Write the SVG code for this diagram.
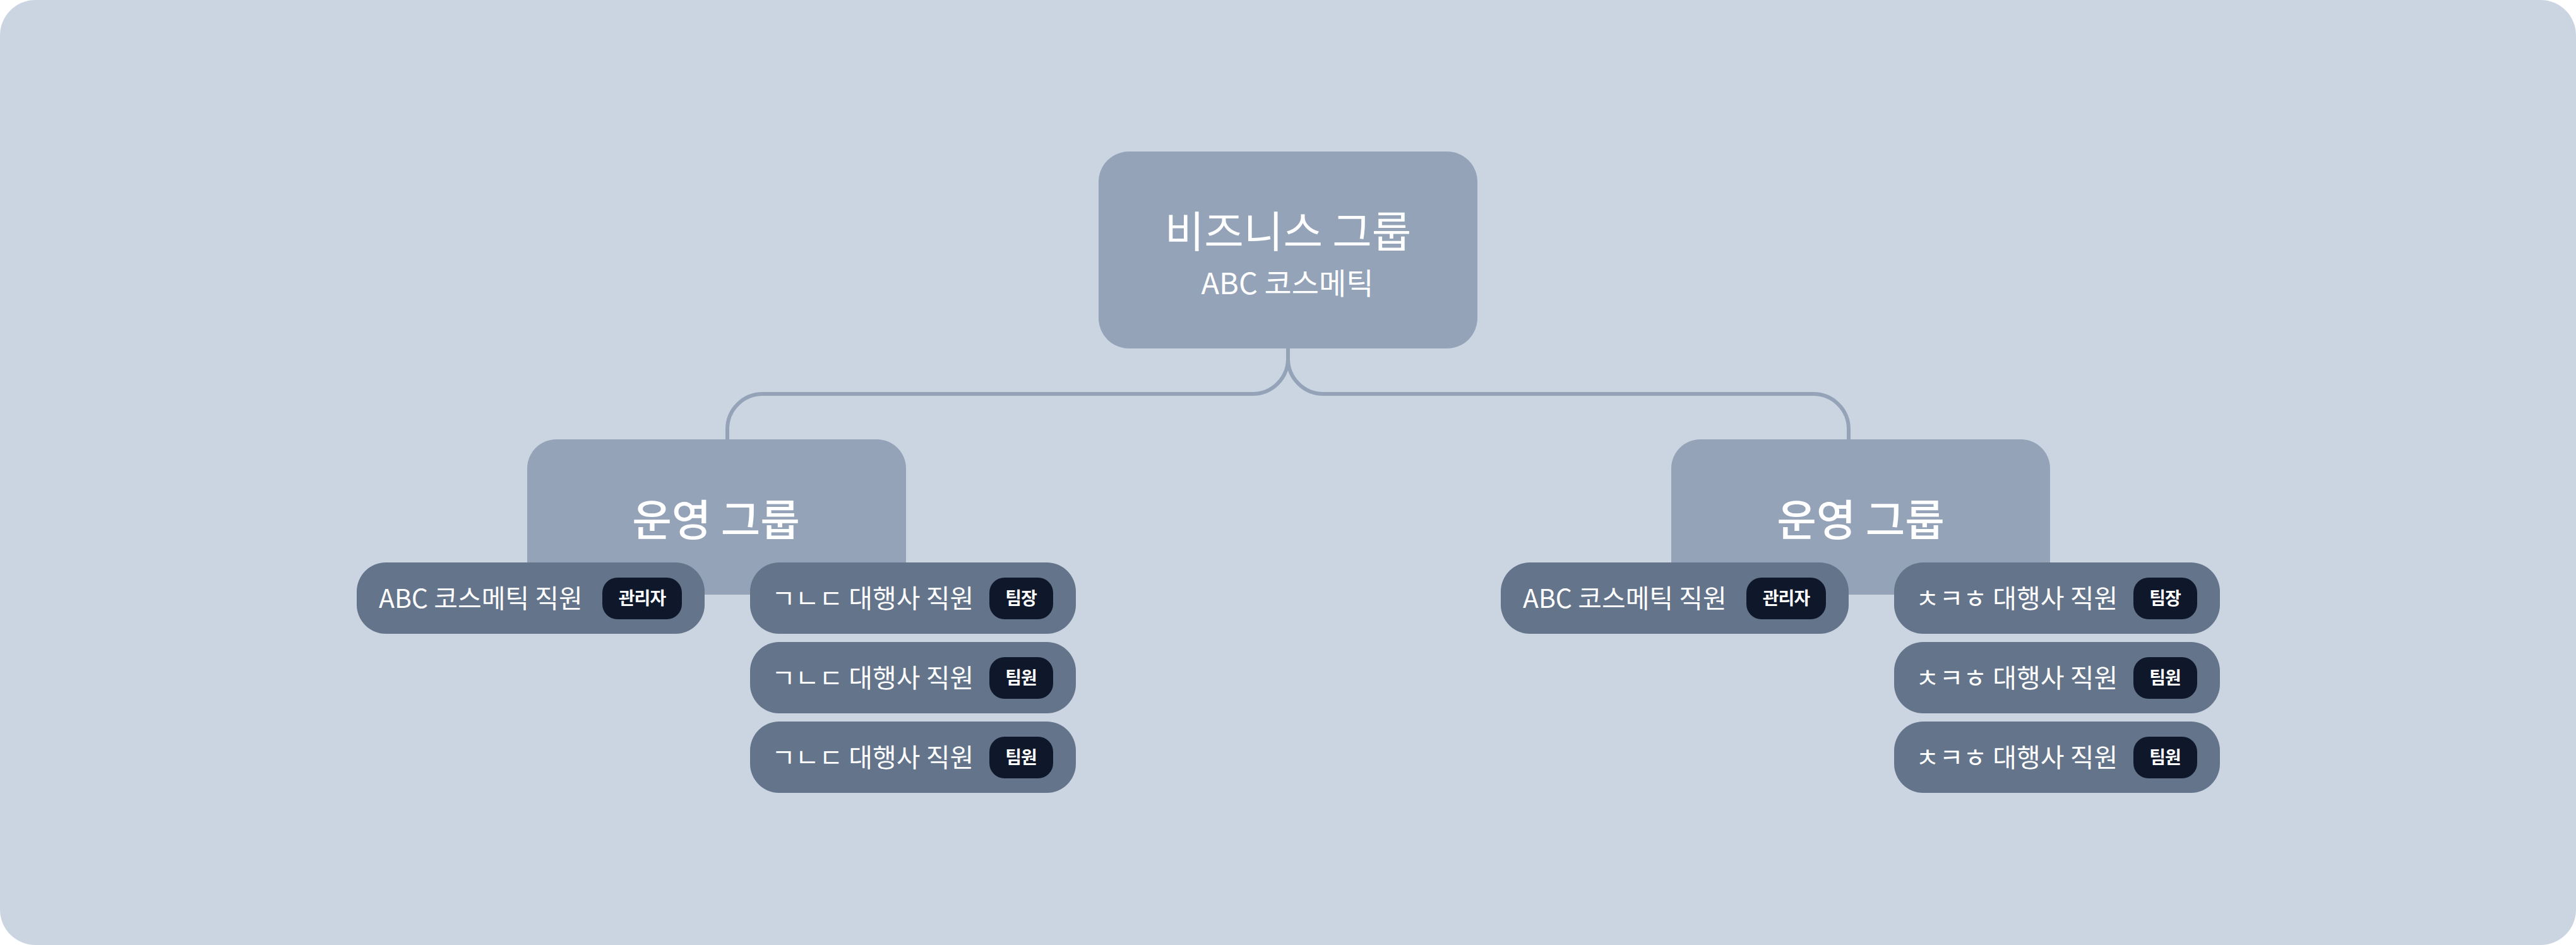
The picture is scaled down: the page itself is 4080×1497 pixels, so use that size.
<svg xmlns="http://www.w3.org/2000/svg" width="4080" height="1497" viewBox="0 0 4080 1497">
<style>
.bg{fill:#cbd5e1}
.box{fill:#94a3b8}
.pill{fill:#64748b}
.badge{fill:#0f172a}
.conn{fill:none;stroke:#94a3b8;stroke-width:6}
text{fill:#ffffff;font-family:"Noto Sans CJK KR","Noto Sans",sans-serif}
.title{font-size:68px;text-anchor:middle}
.sub{font-size:47px;text-anchor:middle}
.grp{font-size:68px;font-weight:500;text-anchor:middle}
.lbl{font-size:41px}
.btxt{font-size:28px;font-weight:600;text-anchor:middle;letter-spacing:-1px}
</style>
<rect class="bg" x="0" y="0" width="4080" height="1497" rx="56"/>

<g id="connectors">
  <path class="conn" d="M2040 552 V568 A56 56 0 0 1 1984 624 H1208 A56 56 0 0 0 1152 680 V696"/>
  <path class="conn" d="M2040 552 V568 A56 56 0 0 0 2096 624 H2872 A56 56 0 0 1 2928 680 V696"/>
</g>

<g id="root">
  <rect class="box" x="1740" y="240" width="600" height="312" rx="48"/>
  <text class="title" x="2040" y="392">비즈니스 그룹</text>
  <text class="sub" x="2039" y="466">ABC 코스메틱</text>
</g>

<g id="group-left">
  <rect class="box" x="835" y="696" width="600" height="246" rx="46"/>
  <text class="grp" x="1134" y="849">운영 그룹</text>
</g>
<g id="left-abc">
  <rect class="pill" x="565" y="891" width="551" height="113" rx="46"/>
  <text class="lbl" x="600" y="963">ABC 코스메틱 직원</text>
  <rect class="badge" x="954" y="915" width="126" height="66" rx="24"/>
  <text class="btxt" x="1017" y="958">관리자</text>
</g>
<g id="left-agency-1">
  <rect class="pill" x="1188" y="891" width="516" height="113" rx="46"/>
  <text class="lbl" x="1222" y="963">ㄱㄴㄷ 대행사 직원</text>
  <rect class="badge" x="1567" y="915" width="101" height="66" rx="24"/>
  <text class="btxt" x="1617" y="958">팀장</text>
</g>
<g id="left-agency-2">
  <rect class="pill" x="1188" y="1017" width="516" height="113" rx="46"/>
  <text class="lbl" x="1222" y="1089">ㄱㄴㄷ 대행사 직원</text>
  <rect class="badge" x="1567" y="1041" width="101" height="66" rx="24"/>
  <text class="btxt" x="1617" y="1084">팀원</text>
</g>
<g id="left-agency-3">
  <rect class="pill" x="1188" y="1143" width="516" height="113" rx="46"/>
  <text class="lbl" x="1222" y="1215">ㄱㄴㄷ 대행사 직원</text>
  <rect class="badge" x="1567" y="1167" width="101" height="66" rx="24"/>
  <text class="btxt" x="1617" y="1210">팀원</text>
</g>

<g id="group-right">
  <rect class="box" x="2647" y="696" width="600" height="246" rx="46"/>
  <text class="grp" x="2947" y="849">운영 그룹</text>
</g>
<g id="right-abc">
  <rect class="pill" x="2377" y="891" width="551" height="113" rx="46"/>
  <text class="lbl" x="2412" y="963">ABC 코스메틱 직원</text>
  <rect class="badge" x="2766" y="915" width="126" height="66" rx="24"/>
  <text class="btxt" x="2829" y="958">관리자</text>
</g>
<g id="right-agency-1">
  <rect class="pill" x="3000" y="891" width="516" height="113" rx="46"/>
  <text class="lbl" x="3034" y="963">ㅊㅋㅎ 대행사 직원</text>
  <rect class="badge" x="3379" y="915" width="101" height="66" rx="24"/>
  <text class="btxt" x="3429" y="958">팀장</text>
</g>
<g id="right-agency-2">
  <rect class="pill" x="3000" y="1017" width="516" height="113" rx="46"/>
  <text class="lbl" x="3034" y="1089">ㅊㅋㅎ 대행사 직원</text>
  <rect class="badge" x="3379" y="1041" width="101" height="66" rx="24"/>
  <text class="btxt" x="3429" y="1084">팀원</text>
</g>
<g id="right-agency-3">
  <rect class="pill" x="3000" y="1143" width="516" height="113" rx="46"/>
  <text class="lbl" x="3034" y="1215">ㅊㅋㅎ 대행사 직원</text>
  <rect class="badge" x="3379" y="1167" width="101" height="66" rx="24"/>
  <text class="btxt" x="3429" y="1210">팀원</text>
</g>
</svg>
